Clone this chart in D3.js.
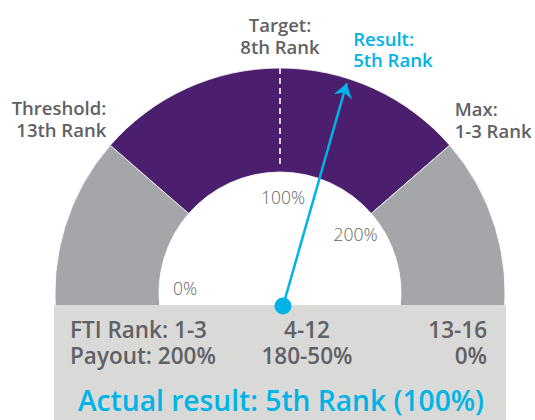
<!DOCTYPE html>
<html>
<head>
<meta charset="utf-8">
<script src="https://cdn.jsdelivr.net/npm/d3@7"></script>
<style>
  body { margin: 0; background: #fff; }
  text { font-family: "Open Sans", sans-serif; }
</style>
</head>
<body>
<script>
// gauge values, position along the dial 0 (left) .. 100 (right)
const zoneNames = ["13-16", "4-12", "1-3"];
const zoneStops = [-4, 22.8, 77.2, 104];
const zoneColors = ["#a4a6a9", "#4b1f6d", "#a4a6a9"];

const targetPos = 50;
const resultPos = 59.8;

const tickLabels = ["0%", "100%", "200%"];
const tickPos = [1.2, 51, 79.3];

const thresholdLabel = ["Threshold:", "13th Rank"];
const targetLabel = ["Target:", "8th Rank"];
const resultLabel = ["Result:", "5th Rank"];
const maxLabel = ["Max:", "1-3 Rank"];

const rankRow = ["FTI Rank: 1-3", "4-12", "13-16"];
const payoutRow = ["Payout: 200%", "180-50%", "0%"];
const actualText = "Actual result: 5th Rank (100%)";

const width = 535, height = 420;
const cx = 280, cy = 293, rOuter = 225, rInner = 121;
const grey = "#5f6166", blue = "#00b3e6";

var angle = d3.scaleLinear().domain([0, 100]).range([-Math.PI / 2, Math.PI / 2]);

function pt(pos, r) {
  var a = angle(pos);
  return [cx + r * Math.sin(a), cy - r * Math.cos(a)];
}

var svg = d3.select("body").append("svg")
    .attr("width", width)
    .attr("height", height);

var defs = svg.append("defs");
defs.append("marker")
    .attr("id", "head")
    .attr("markerUnits", "userSpaceOnUse")
    .attr("viewBox", "-15 -11 17 22")
    .attr("markerWidth", 17)
    .attr("markerHeight", 22)
    .attr("refX", 0).attr("refY", 0)
    .attr("orient", "auto")
  .append("path")
    .attr("d", "M0,0 L-14,-9.5 L-9.5,0 L-14,9.5 Z")
    .attr("fill", blue);

var g = svg.append("g").attr("transform", "translate(" + cx + "," + cy + ")");

var arc = d3.arc().innerRadius(rInner).outerRadius(rOuter);

// dial zones
g.selectAll("path.zone")
  .data(zoneNames)
  .enter().append("path")
    .attr("class", "zone")
    .attr("d", function(d, i) {
      return arc({startAngle: angle(zoneStops[i]), endAngle: angle(zoneStops[i + 1])});
    })
    .attr("fill", function(d, i) { return zoneColors[i]; })
    .attr("stroke", "#fff")
    .attr("stroke-width", 0.8);

// target dashed line
var t0 = pt(targetPos, rOuter), t1 = pt(targetPos, rInner + 4);
svg.append("line")
    .attr("x1", t0[0]).attr("y1", t0[1])
    .attr("x2", t1[0]).attr("y2", t1[1])
    .attr("stroke", "#fff")
    .attr("stroke-width", 1.6)
    .attr("stroke-dasharray", "6,4");

// payout ticks inside the dial
svg.selectAll("text.tick")
  .data(tickLabels)
  .enter().append("text")
    .attr("class", "tick")
    .attr("x", function(d, i) { return pt(tickPos[i], 95)[0]; })
    .attr("y", function(d, i) { return pt(tickPos[i], 95)[1] + 6; })
    .attr("text-anchor", "middle")
    .attr("font-size", 17.5)
    .attr("font-weight", 300)
    .attr("fill", "#5f6166")
    .text(function(d) { return d; });

// bottom panel
svg.append("rect")
    .attr("x", cx - 226).attr("y", cy + 12)
    .attr("width", 452).attr("height", height - cy - 12)
    .attr("fill", "#d9d9d8");

function twoLines(lines, x, y, anchor, color) {
  svg.selectAll(null)
    .data(lines)
    .enter().append("text")
      .attr("x", x)
      .attr("y", function(d, i) { return y + i * 21.5; })
      .attr("text-anchor", anchor)
      .attr("font-size", 18.5)
      .attr("font-weight", 600)
      .attr("fill", color)
      .text(function(d) { return d; });
}

var thr = pt(zoneStops[1], rOuter), mx = pt(zoneStops[2], rOuter), tg = pt(targetPos, rOuter);
var rs = pt(resultPos, rOuter);
twoLines(thresholdLabel, thr[0] - 4, thr[1] - 30, "end", grey);
twoLines(maxLabel, mx[0] + 5, mx[1] - 29, "start", grey);
twoLines(targetLabel, tg[0], tg[1] - 36, "middle", grey);
twoLines(resultLabel, rs[0] + 5, rs[1] - 33, "start", blue);

// panel rows
var colX = [cx - 210, cx + 27, cx + 207];
var colAnchor = ["start", "middle", "end"];
[rankRow, payoutRow].forEach(function(row, r) {
  svg.selectAll(null)
    .data(row)
    .enter().append("text")
      .attr("x", function(d, i) { return colX[i]; })
      .attr("y", 338 + r * 26)
      .attr("text-anchor", function(d, i) { return colAnchor[i]; })
      .attr("font-size", 22.5)
      .attr("font-weight", 600)
      .attr("fill", grey)
      .text(function(d) { return d; });
});

svg.append("text")
    .attr("x", cx + 1)
    .attr("y", 411)
    .attr("text-anchor", "middle")
    .attr("font-size", 28.2)
    .attr("font-weight", 600)
    .attr("fill", blue)
    .text(actualText);

// needle
var base = [cx + 3, cy + 13];
var tip = pt(resultPos, 220);
svg.append("line")
    .attr("x1", base[0]).attr("y1", base[1])
    .attr("x2", tip[0]).attr("y2", tip[1])
    .attr("stroke", blue)
    .attr("stroke-width", 2.5)
    .attr("marker-end", "url(#head)");
svg.append("circle")
    .attr("cx", base[0]).attr("cy", base[1])
    .attr("r", 8.5)
    .attr("fill", blue);
</script>
</body>
</html>
